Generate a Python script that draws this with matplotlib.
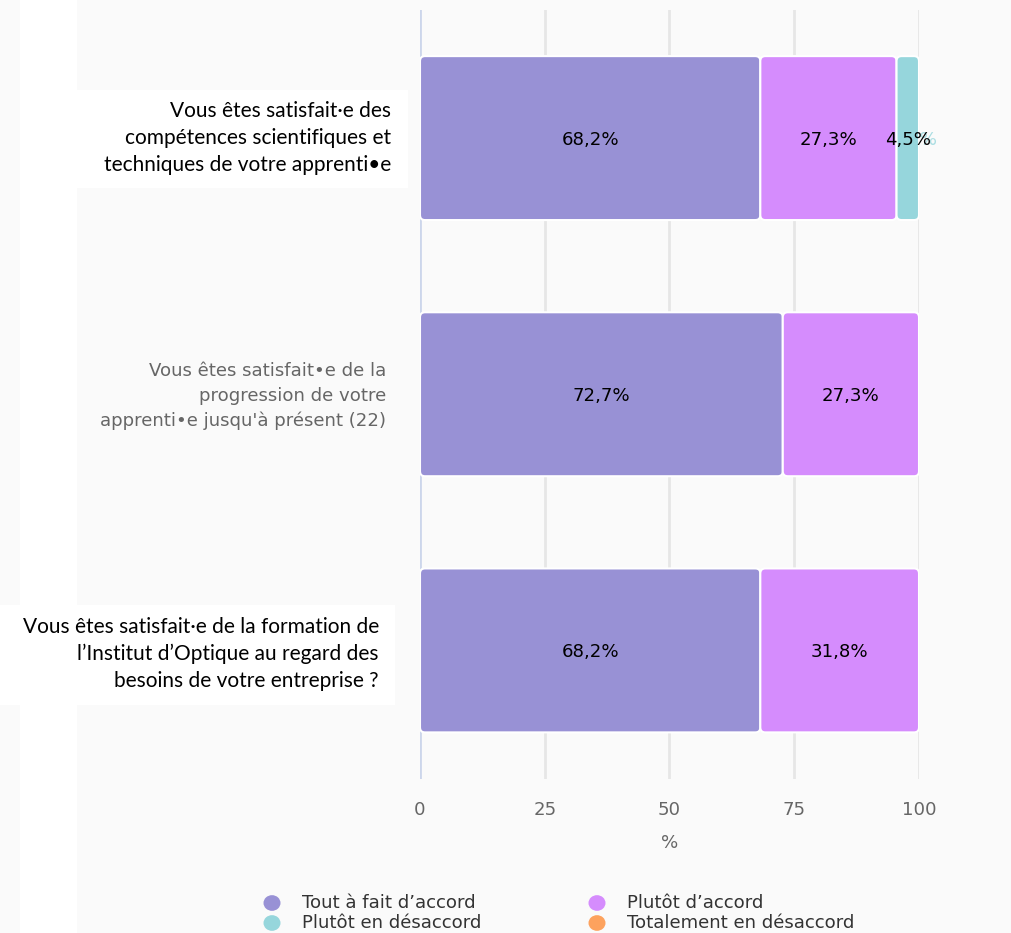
import numpy as np
import matplotlib.pyplot as plt
from matplotlib.patches import FancyBboxPatch, Rectangle, Circle

plt.rcParams['font.family'] = ['DejaVu Sans']

# --- data ---
questions = [
    "Vous êtes satisfait·e des\ncompétences scientifiques et\ntechniques de votre apprenti•e",
    "Vous êtes satisfait•e de la\nprogression de votre\napprenti•e jusqu'à présent (22)",
    "Vous êtes satisfait·e de la formation de\nl’Institut d’Optique au regard des\nbesoins de votre entreprise ?",
]
series_names = ["Tout à fait d’accord", "Plutôt d’accord",
                "Plutôt en désaccord", "Totalement en désaccord"]
tout_a_fait = [68.2, 72.7, 68.2]
plutot_accord = [27.3, 27.3, 31.8]
plutot_desaccord = [4.5, 0.0, 0.0]
totalement_desaccord = [0.0, 0.0, 0.0]
x_ticks = [0, 25, 50, 75, 100]

colors = ["#9891d5", "#d58cfd", "#96d6dc", "#fda25e"]
W, H = 1012, 933
FS = 13.1

fig = plt.figure(figsize=(W / 100, H / 100), dpi=100)
fig.patch.set_facecolor("#fafafa")
# white strip on the left
fig.add_artist(Rectangle((20 / W, 0), 57 / W, 1, transform=fig.transFigure,
                         facecolor="white", edgecolor="none", zorder=0))

ax = fig.add_axes([420 / W, 1 - 778.5 / H, 499 / W, 768.5 / H])
ax.set_facecolor("none")
ax.set_xlim(0, 100)
ax.set_ylim(2.5, -0.5)
for s in ax.spines.values():
    s.set_visible(False)

for t in x_ticks[1:]:
    ax.axvline(t, color="#e6e6e6", lw=2, zorder=0)
ax.axvline(0, color="#ccd6eb", lw=2, zorder=0)

y = np.arange(len(questions))
values = [tout_a_fait, plutot_accord, plutot_desaccord, totalement_desaccord]
left = np.zeros(len(questions))
px_x = 100 / 499          # data units per pixel in x
px_y = 3 / 768.5          # data units per pixel in y
for vals, col in zip(values, colors):
    vals = np.array(vals)
    bars = ax.barh(y, vals, left=left, height=0.64, color=col)
    for b, v in zip(bars, vals):
        b.remove()
        if v <= 0:
            continue
        x0, y0 = b.get_x(), b.get_y()
        w, h = b.get_width(), b.get_height()
        patch = FancyBboxPatch((x0, y0), w, h,
                               boxstyle=f"round,pad=0,rounding_size={5 * px_x}",
                               mutation_aspect=px_y / px_x,
                               facecolor=col, edgecolor="white", lw=1.5, zorder=2)
        ax.add_patch(patch)
        lab = f"{v:.1f}%".replace(".", ",")
        cx = x0 + w / 2
        if col == colors[2]:
            # faint shifted copy of the label, mostly hidden behind the bar
            ax.text(cx + 6 * px_x, y0 + h / 2 + 2 * px_y, lab, ha="center",
                    va="center", fontsize=FS, color=col, alpha=0.8, zorder=1)
        ax.text(cx, y0 + h / 2 + 2 * px_y, lab, ha="center", va="center",
                fontsize=FS, color="black", zorder=3)
    left += vals

ax.set_yticks([])
ax.set_xticks(x_ticks)
ax.set_xticklabels([str(t) for t in x_ticks], fontsize=FS, color="#666666")
ax.tick_params(axis="x", length=0, pad=16)
ax.set_xlabel("%", fontsize=FS, color="#666666", labelpad=11)

# category labels
boxes = [(77, 90, 331, 98), None, (0, 605, 395, 100)]
for i, (q, box) in enumerate(zip(questions, boxes)):
    if box is not None:
        bx, by, bw, bh = box
        fig.add_artist(Rectangle((bx / W, 1 - (by + bh) / H), bw / W, bh / H,
                                 transform=fig.transFigure, facecolor="white",
                                 edgecolor="none", zorder=1))
        xr = 391 if i == 0 else 379
        yc = by + bh / 2 - 1
        fig.text(xr / W, 1 - yc / H, q, ha="right", va="center", fontsize=15,
                 family="Lato", color="black", linespacing=1.45, zorder=2)
    else:
        fig.text(386 / W, 1 - 396 / H, q, ha="right", va="center",
                 fontsize=FS, color="#666666", linespacing=1.45)

# legend
leg_pos = [(272, 903), (597, 903), (272, 923), (597, 923)]
for name, col, (lx, ly) in zip(series_names, colors, leg_pos):
    fig.add_artist(Circle((lx / W, 1 - ly / H), 8.5 / W, transform=fig.transFigure,
                          facecolor=col, edgecolor="none"))
    fig.text((lx + 30) / W, 1 - ly / H, name, ha="left", va="center",
             fontsize=FS, color="#333333")

fig.savefig("out.png", dpi=100, facecolor=fig.get_facecolor())
